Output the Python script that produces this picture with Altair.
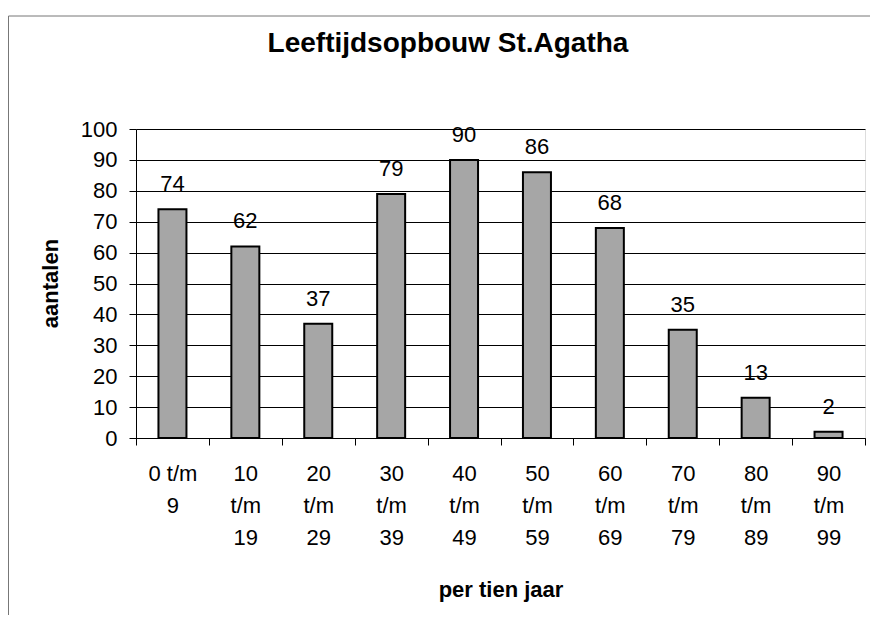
import altair as alt
import pandas as pd

title_text = "Leeftijdsopbouw St.Agatha"
categories = ["0 t/m|9", "10|t/m|19", "20|t/m|29", "30|t/m|39", "40|t/m|49",
              "50|t/m|59", "60|t/m|69", "70|t/m|79", "80|t/m|89", "90|t/m|99"]
values = [74, 62, 37, 79, 90, 86, 68, 35, 13, 2]
y_ticks = [0, 10, 20, 30, 40, 50, 60, 70, 80, 90, 100]

df = pd.DataFrame({"cat": categories, "n": values})
df_title = pd.DataFrame({"t": [title_text]})

FONT = "Liberation Sans"

x_enc = alt.X(
    "cat:N", sort=None,
    scale=alt.Scale(paddingInner=0, paddingOuter=0),
    axis=alt.Axis(
        title="per tien jaar", labelAngle=0, tickBand="extent",
        labelExpr="split(datum.label, '|')", labelLineHeight=32,
        labelFontSize=22, labelFont=FONT, labelColor="black",
        labelBaseline="top", labelPadding=18,
        tickSize=7, tickColor="black", domainColor="black",
        titleFontSize=22, titleFont=FONT, titleFontWeight="bold", titleColor="black",
        titleY=158, titleBaseline="alphabetic",
    ),
)
y_enc = alt.Y(
    "n:Q",
    scale=alt.Scale(domain=[0, 100], nice=False),
    axis=alt.Axis(
        title="aantalen", values=y_ticks, grid=True, gridColor="black", gridWidth=1,
        labelOverlap=False, tickCount=11,
        labelFontSize=22, labelFont=FONT, labelColor="black", labelPadding=12,
        tickSize=7, tickColor="black", domainColor="black",
        titleFontSize=22, titleFont=FONT, titleFontWeight="bold", titleColor="black",
        titleX=-86, titleY=154, titleAngle=270, titleBaseline="middle", titleAlign="center",
    ),
)

bars = alt.Chart(df).mark_bar(size=28, fill="#a6a6a6", stroke="black", strokeWidth=2).encode(
    x=x_enc, y=y_enc
)
labels = alt.Chart(df).mark_text(
    dy=-18, baseline="alphabetic", fontSize=22, font=FONT, color="black"
).encode(x=x_enc, y=y_enc, text="n:Q")

title_mark = alt.Chart(df_title).mark_text(
    fontSize=28, font=FONT, fontWeight="bold", color="black",
    align="center", baseline="alphabetic",
).encode(x=alt.value(312), y=alt.value(-77), text="t:N")

border_left = alt.Chart(df_title).mark_rule(color="#777777", strokeWidth=1).encode(
    x=alt.value(-127.5), y=alt.value(-113), y2=alt.value(490)
)
border_top = alt.Chart(df_title).mark_rule(color="#777777", strokeWidth=1).encode(
    x=alt.value(-127.5), x2=alt.value(740), y=alt.value(-113)
)

chart = alt.layer(bars, labels, title_mark, border_left, border_top).properties(
    width=729, height=309,
    padding={"left": 128, "top": 121, "right": 5, "bottom": 177},
    autosize=alt.AutoSizeParams(type="none"),
).configure_view(
    fill="#c4c4c4", stroke="black", strokeWidth=1.5
).configure(background="white")

chart.save("out.html", embed_options={"renderer": "svg", "actions": False})
